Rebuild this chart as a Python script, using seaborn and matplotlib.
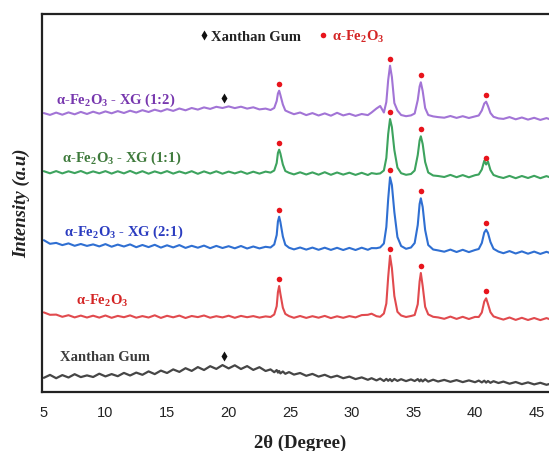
import numpy as np
import pandas as pd
import matplotlib
matplotlib.use("Agg")
import matplotlib.pyplot as plt
import seaborn as sns

# ---------------- data ----------------
two_theta = [
    5.0, 5.5, 6.0, 6.5, 7.0, 7.5, 8.0, 8.5, 9.0, 9.5, 10.0, 10.5, 11.0, 11.5, 12.0, 12.5,
    13.0, 13.5, 14.0, 14.5, 15.0, 15.5, 16.0, 16.5, 17.0, 17.5, 18.0, 18.5, 19.0, 19.5,
    20.0, 20.5, 21.0, 21.5, 22.0, 22.5, 23.0,
    23.4, 23.7, 23.9, 24.0, 24.1, 24.2, 24.4, 24.6, 24.9,
    25.3, 25.8, 26.3, 26.8, 27.3, 27.8, 28.3, 28.8, 29.3, 29.8, 30.3, 30.8, 31.3, 31.6,
    32.0, 32.3, 32.6, 32.8, 32.95, 33.1, 33.25, 33.45, 33.7, 34.0, 34.4, 34.8,
    35.1, 35.35, 35.5, 35.6, 35.75, 35.95, 36.2, 36.6, 37.0,
    37.5, 38.0, 38.5, 39.0, 39.5, 40.0, 40.3,
    40.55, 40.75, 40.9, 41.05, 41.25, 41.5, 41.9,
    42.3, 42.8, 43.3, 43.8, 44.3, 44.8, 45.3, 45.8, 46.3, 46.8, 47.3, 47.8,
]

xanthan_gum = [
    14.2, 17.1, 13.8, 16.9, 14.5, 17.8, 14.9, 16.6, 15.0, 18.3,
    15.6, 17.9, 15.8, 19.1, 16.5, 19.4, 17.2, 20.6, 17.9, 21.4,
    19.0, 22.6, 20.1, 23.8, 21.1, 24.9, 22.0, 25.8, 23.1, 26.9,
    23.6, 26.7, 23.0, 25.9, 22.1, 24.8, 21.0,
    22.6, 19.8, 21.9, 19.4, 21.0, 18.6, 20.5, 18.2, 19.9,
    17.4, 19.0, 16.2, 18.1, 15.4, 17.2, 14.6, 16.3, 13.8, 15.4, 12.9, 14.6, 12.2, 13.8,
    11.6, 13.4, 11.0, 13.1, 11.2, 12.9, 10.8, 13.0, 11.1, 12.8, 10.9, 12.6,
    11.0, 12.9, 10.7, 12.5, 10.6, 12.7, 10.4, 12.3, 10.5,
    12.1, 10.2, 11.9, 9.9, 11.6, 9.8, 11.4,
    9.6, 11.3, 9.4, 11.0, 9.2, 10.8, 9.0,
    10.4, 8.3, 10.0, 7.9, 9.6, 7.6, 9.2, 7.2, 8.9, 6.9, 8.6, 6.7,
]

fe2o3 = [
    9.6, 7.2, 7.4, 5.2, 6.8, 4.6, 6.4, 4.5, 6.3, 4.4,
    6.5, 4.2, 6.1, 4.8, 6.6, 4.3, 5.9, 4.5, 6.7, 4.1,
    6.2, 4.7, 6.4, 4.0, 6.0, 4.9, 6.5, 4.3, 5.8, 4.6,
    6.3, 4.2, 6.1, 4.8, 5.9, 4.4, 5.6,
    5.0, 7.5, 15.8, 29.8, 36.0, 28.2, 14.3, 8.1, 5.9,
    4.2, 6.0, 4.1, 5.8, 4.3, 6.1, 3.9, 5.7, 4.2, 5.9, 4.6, 6.9, 7.2, 8.3,
    5.8, 5.2, 8.5, 18.5, 45.0, 66.3, 54.0, 26.0, 10.2, 6.5, 5.0, 6.0,
    7.0, 17.8, 40.5, 49.0, 36.0, 15.2, 7.6, 5.2, 4.6,
    3.2, 5.4, 3.1, 5.2, 3.0, 5.1, 5.0,
    9.5, 20.5, 23.7, 18.0, 9.8, 5.6, 3.9,
    2.4, 4.5, 2.1, 4.2, 2.0, 4.0, 1.9, 3.9, 1.8, 3.7, 1.7, 3.6,
]

xg_2_1 = [
    16.8, 13.2, 14.1, 11.9, 13.6, 11.2, 13.0, 11.1, 12.6, 10.6,
    12.9, 10.3, 12.4, 10.5, 12.6, 9.8, 12.0, 9.9, 12.2, 9.4,
    11.7, 9.6, 11.9, 9.1, 11.2, 9.3, 11.4, 8.8, 11.1, 9.0,
    10.8, 8.7, 11.0, 8.5, 10.5, 8.6, 10.2,
    9.5, 12.5, 22.0, 35.5, 40.3, 35.0, 20.5, 12.2, 9.3,
    7.6, 9.5, 7.4, 9.4, 7.2, 9.3, 7.1, 9.2, 7.0, 9.1, 7.0, 9.3, 7.2, 8.9,
    8.8, 9.6, 13.5, 30.0, 58.0, 79.7, 72.0, 45.0, 20.0, 11.0, 8.2, 9.5,
    14.0, 32.0, 53.0, 58.7, 50.0, 27.0, 12.0, 7.5, 6.6,
    5.3, 7.4, 5.0, 7.2, 4.9, 7.0, 8.0,
    14.0, 24.5, 27.3, 24.0, 15.0, 8.2, 5.4,
    3.8, 5.9, 3.5, 5.6, 3.3, 5.4, 3.1, 5.2, 3.0, 5.0, 2.9, 4.9,
]

xg_1_1 = [
    10.8, 8.7, 10.9, 8.6, 10.7, 8.9, 11.0, 8.5, 10.6, 8.8,
    10.9, 8.4, 10.7, 8.6, 11.1, 8.5, 10.8, 8.3, 10.6, 8.7,
    10.9, 8.4, 10.5, 8.6, 10.8, 8.2, 10.6, 8.5, 10.7, 8.3,
    10.4, 8.6, 10.5, 8.2, 10.3, 8.4, 10.4,
    9.4, 11.5, 19.0, 29.0, 32.3, 28.5, 17.5, 11.0, 9.2,
    7.6, 9.7, 7.5, 9.6, 7.3, 9.8, 7.2, 9.5, 7.4, 9.3, 7.1, 9.2, 7.0, 8.9,
    8.1, 8.6, 11.5, 24.0, 48.0, 63.0, 55.0, 32.0, 14.5, 8.8, 7.2, 8.0,
    11.5, 27.0, 41.5, 45.7, 38.0, 20.0, 9.5, 6.5, 6.0,
    5.0, 7.1, 4.8, 6.9, 4.7, 6.8, 7.5,
    12.5, 21.3, 17.5, 20.5, 12.0, 7.0, 5.2,
    4.0, 6.1, 3.8, 6.0, 4.0, 6.2, 3.8, 5.9, 3.7, 5.8, 3.6, 5.7,
]

xg_1_2 = [
    13.9, 12.1, 14.4, 12.3, 14.6, 12.7, 15.1, 13.0, 15.3, 13.4,
    15.6, 13.7, 15.9, 14.0, 16.3, 14.5, 16.8, 15.0, 17.3, 15.6,
    17.9, 16.1, 18.5, 16.7, 19.0, 17.4, 19.6, 18.1, 20.2, 19.0,
    20.6, 18.9, 20.3, 18.4, 19.7, 17.6, 18.4,
    17.0, 19.0, 26.0, 33.5, 36.3, 32.0, 22.5, 16.5, 14.8,
    12.8, 14.5, 11.9, 13.9, 11.5, 13.6, 11.3, 14.2, 11.6, 13.2, 11.1, 13.0, 11.9, 14.5,
    18.5, 21.0, 14.5, 25.0, 47.0, 61.3, 50.0, 24.0, 16.5, 12.0, 10.8, 11.6,
    13.5, 27.0, 40.5, 44.7, 36.0, 19.0, 12.0, 10.6, 9.9,
    9.3, 11.0, 9.1, 10.8, 9.0, 10.6, 11.5,
    16.5, 23.5, 25.3, 21.0, 14.0, 10.2, 8.6,
    8.1, 9.9, 7.7, 9.5, 7.4, 9.2, 7.1, 8.9, 6.8, 8.6, 6.6, 8.4,
]

fe2o3_peaks = [24.1, 33.1, 35.6, 40.9]
xg_peak = 19.6
x_ticks = [5, 10, 15, 20, 25, 30, 35, 40, 45]

FE = "α-Fe$_\\mathrm{2}$O$_\\mathrm{3}$"
labels = ["Xanthan Gum", FE, FE + " - XG (2:1)", FE + " - XG (1:1)", FE + " - XG (1:2)"]

for s in (xanthan_gum, fe2o3, xg_2_1, xg_1_1, xg_1_2):
    assert len(s) == len(two_theta), (len(s), len(two_theta))

# ---------------- style ----------------
sns.set_theme(style="white")
plt.rcParams["font.family"] = ["Liberation Serif", "DejaVu Sans"]
plt.rcParams["mathtext.fontset"] = "custom"
plt.rcParams["mathtext.rm"] = "Liberation Serif:bold"
plt.rcParams["mathtext.it"] = "Liberation Serif:bold"
plt.rcParams["mathtext.bf"] = "Liberation Serif:bold"

W, H = 549, 452
fig = plt.figure(figsize=(W / 100, H / 100), dpi=100)
ax = fig.add_axes([42 / W, 59 / H, 531.6 / W, 378 / H])

series = [xanthan_gum, fe2o3, xg_2_1, xg_1_1, xg_1_2]
offsets = [0, 70, 135, 210, 265]
line_colors = ["#464646", "#E14A4E", "#2F6FD2", "#3DA35E", "#A274D6"]
text_colors = ["#3C3C3C", "#D42525", "#2B3CC0", "#3F7A3C", "#7737AE"]
label_pos = [(6.31, 32), (7.61, 88), (6.64, 157), (6.45, 231), (5.99, 289)]

df = pd.DataFrame({
    "two_theta": np.tile(two_theta, len(series)),
    "intensity": np.concatenate([np.array(s) + o for s, o in zip(series, offsets)]),
    "sample": np.repeat(labels, len(two_theta)),
})

for lab, col, lw in zip(labels, line_colors, [1.6, 1.5, 1.5, 1.5, 1.5]):
    sns.lineplot(data=df[df["sample"] == lab], x="two_theta", y="intensity",
                 ax=ax, color=col, lw=lw, sort=False, estimator=None)

# peak markers
for s, o in zip(series[1:], offsets[1:]):
    yy = np.interp(fe2o3_peaks, two_theta, s) + o + 7
    ax.plot(fe2o3_peaks, yy, ls="none", marker="o", ms=4, color="#E8141C", mec="none")
for idx in (0, 4):
    yy = np.interp(xg_peak, two_theta, series[idx]) + offsets[idx] + 9.5
    ax.plot([xg_peak], [yy], ls="none", marker="d", ms=5.5, color="#111111", mec="none")

# curve labels
for lab, col, (lx, ly) in zip(labels, text_colors, label_pos):
    ax.text(lx, ly, lab, color=col, fontsize=10.5, fontweight="bold",
            ha="left", va="baseline", family="Liberation Serif")

# top legend
ax.plot([18.0], [357], ls="none", marker="d", ms=5.5, color="#111111", mec="none")
ax.text(18.57, 352, "Xanthan Gum", color="#222222", fontsize=10.5, fontweight="bold",
        ha="left", va="baseline", family="Liberation Serif")
ax.plot([27.66], [357], ls="none", marker="o", ms=4, color="#E8141C", mec="none")
ax.text(28.39, 352, FE, color="#D42525", fontsize=10.5, fontweight="bold",
        ha="left", va="baseline", family="Liberation Serif")

ax.set_xlim(4.85, 48.0)
ax.set_ylim(0, 378)
ax.set_xticks(x_ticks)
ax.set_xticklabels([str(t) for t in x_ticks], family="Liberation Sans", fontsize=10.5, color="#222222")
ax.set_yticks([])
ax.tick_params(axis="x", length=0, pad=9.5)
ax.set_xlabel("")
ax.set_ylabel("")
for sp in ax.spines.values():
    sp.set_color("#222222")
    sp.set_linewidth(1.6)

fig.text(300 / W, 1 - 443 / H, "2θ (Degree)", ha="center", va="center",
         fontsize=13.5, fontweight="bold", family="Liberation Serif", color="#222222")
fig.text(22 / W, 1 - 203 / H, "Intensity (a.u)", ha="center", va="center", rotation=90,
         fontsize=13.5, fontweight="bold", fontstyle="italic", family="Liberation Serif",
         color="#222222")

fig.savefig("out.png", dpi=100)
